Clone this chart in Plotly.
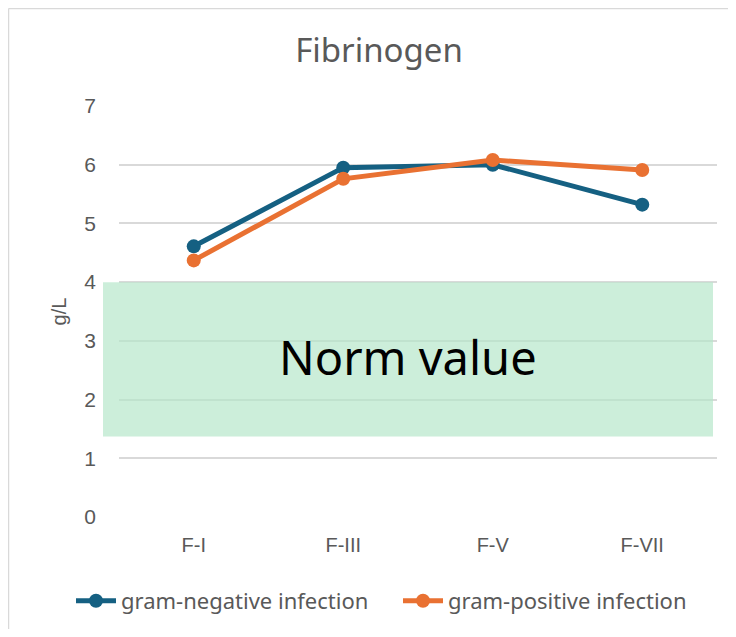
import plotly.graph_objects as go

categories = ["F-I", "F-III", "F-V", "F-VII"]
gram_negative = [4.61, 5.95, 6.00, 5.32]
gram_positive = [4.37, 5.76, 6.08, 5.91]
norm_range = [1.37, 4.0]
y_ticks = [0, 1, 2, 3, 4, 5, 6, 7]

# the page places the figure 8px from the top-left corner (body margin)
OFF = 8
W, H = 736 - 2 * OFF, 637 - 2 * OFF
L, T = 119 - OFF, 106 - OFF
R = W - (717 - OFF)
B = H - (517 - OFF)
pw = W - L - R
ph = H - T - B


def px_x(p):
    return (p - OFF - L) / pw


def px_y(p):
    return (H - B - (p - OFF)) / ph


AX_FONT = "Liberation Sans, Arial, sans-serif"
TXT_FONT = "Noto Sans, sans-serif"
GRAY = "#595959"

fig = go.Figure()
fig.add_trace(go.Scatter(x=categories, y=gram_negative, name="gram-negative infection",
                         mode="lines+markers", line=dict(color="#156082", width=5),
                         marker=dict(size=14, color="#156082"), legend="legend"))
fig.add_trace(go.Scatter(x=categories, y=gram_positive, name="gram-positive infection",
                         mode="lines+markers", line=dict(color="#E97132", width=5),
                         marker=dict(size=14, color="#E97132"), legend="legend2"))

fig.add_shape(type="rect", xref="paper", yref="y", x0=px_x(103), x1=px_x(713),
              y0=norm_range[0], y1=norm_range[1], fillcolor="rgba(180,230,200,0.68)",
              line=dict(width=0), layer="above")
# outer chart frame (top and left edges visible)
fig.add_shape(type="line", xref="paper", yref="paper", x0=px_x(8.5), x1=px_x(736),
              y0=px_y(8.5), y1=px_y(8.5), line=dict(color="#D9D9D9", width=1.5), layer="below")
fig.add_shape(type="line", xref="paper", yref="paper", x0=px_x(8.5), x1=px_x(8.5),
              y0=px_y(8.5), y1=px_y(637), line=dict(color="#D9D9D9", width=1.5), layer="below")

fig.add_annotation(x=1.43, y=2.72, text="Norm value", showarrow=False,
                   font=dict(family=TXT_FONT, size=47, color="black"))

legend_common = dict(orientation="h", xref="container", yref="container", xanchor="left",
                     y=1 - (601 - OFF) / H, yanchor="middle",
                     font=dict(family=TXT_FONT, size=22, color=GRAY), itemwidth=40)

fig.update_layout(
    width=W, height=H,
    margin=dict(l=L, r=R, t=T, b=B, autoexpand=False),
    paper_bgcolor="white", plot_bgcolor="white",
    title=dict(text="Fibrinogen", x=px_x(379), xref="paper", xanchor="center",
               y=1 - (50 - OFF) / H, yanchor="middle",
               font=dict(family=TXT_FONT, size=33, color=GRAY)),
    xaxis=dict(type="category", range=[-0.5, 3.5], showgrid=False, zeroline=False, showline=False,
               ticks="", ticklabelstandoff=14,
               tickfont=dict(family=AX_FONT, size=20, color=GRAY),
               fixedrange=True),
    yaxis=dict(range=[0, 7], tickvals=y_ticks, showgrid=True, gridcolor="#D9D9D9", gridwidth=1.5,
               zeroline=False, showline=False, ticks="", ticklabelstandoff=22,
               tickfont=dict(family=AX_FONT, size=21, color=GRAY),
               title=dict(text="g/L", standoff=12,
                          font=dict(family=AX_FONT, size=20, color=GRAY))),
    legend=dict(x=(71 - OFF) / W, **legend_common),
    legend2=dict(x=(398 - OFF) / W, **legend_common),
    showlegend=True,
)

fig.write_html("out.html")
